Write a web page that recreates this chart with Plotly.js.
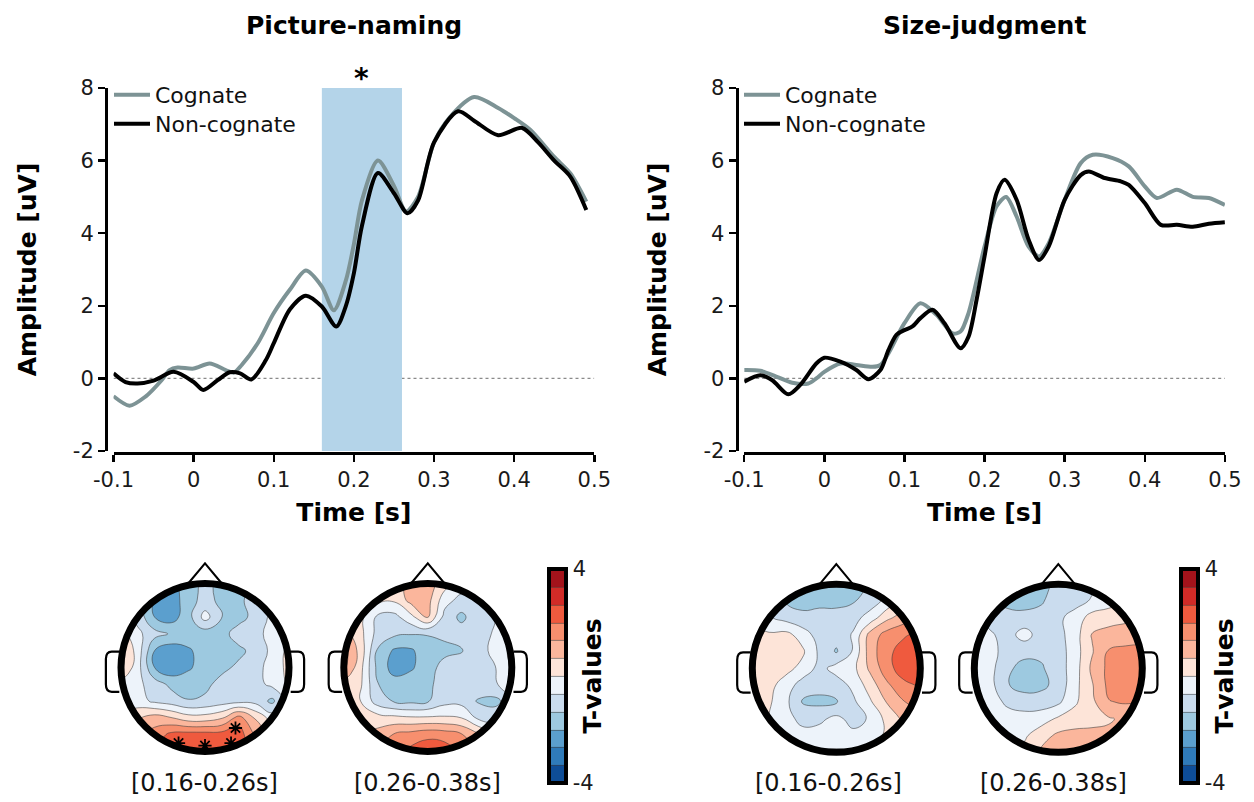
<!DOCTYPE html>
<html><head><meta charset="utf-8">
<script src="https://cdn.plot.ly/plotly-3.0.1.min.js"></script>
<style>html,body{margin:0;padding:0;background:#fff}#chart{width:1254px;height:802px}</style>
</head><body><div id="chart"></div>
<script>
// ---------------- DATA ----------------
// Picture-naming ERP (uV)
const pnCogT = [-0.1,-0.08,-0.06,-0.04,-0.03,-0.02,0,0.02,0.04,0.05,0.06,0.08,0.1,0.12,0.14,0.16,0.175,0.19,0.2,0.21,0.23,0.25,0.265,0.28,0.3,0.32,0.35,0.38,0.4,0.42,0.45,0.47,0.49];
const pnCogV = [-0.49,-0.75,-0.5,-0.05,0.23,0.3,0.27,0.41,0.23,0.16,0.37,0.97,1.8,2.44,2.97,2.53,1.88,2.7,3.7,4.9,6.0,5.3,4.6,5.0,6.5,7.2,7.75,7.45,7.17,6.85,6.1,5.65,4.87];
const pnNonT = [-0.1,-0.085,-0.07,-0.05,-0.025,0,0.012,0.03,0.045,0.058,0.072,0.09,0.1,0.12,0.14,0.16,0.178,0.19,0.2,0.21,0.23,0.25,0.267,0.28,0.3,0.33,0.35,0.38,0.41,0.43,0.45,0.47,0.49];
const pnNonV = [0.14,-0.1,-0.14,-0.06,0.18,-0.1,-0.32,-0.05,0.17,0.14,-0.03,0.5,0.97,1.9,2.28,1.98,1.43,2.0,2.9,4.2,5.66,5.1,4.55,4.9,6.5,7.36,7.1,6.7,6.9,6.5,6.0,5.56,4.64];
// Size-judgment ERP (uV)
const sjCogT = [-0.1,-0.08,-0.06,-0.04,-0.02,-0.01,0,0.02,0.04,0.06,0.07,0.08,0.1,0.12,0.14,0.16,0.17,0.18,0.2,0.215,0.227,0.24,0.255,0.268,0.28,0.3,0.32,0.335,0.36,0.38,0.4,0.415,0.44,0.46,0.48,0.5];
const sjCogV = [0.23,0.21,0.05,-0.12,-0.14,0,0.18,0.41,0.37,0.32,0.37,0.69,1.52,2.07,1.75,1.24,1.29,1.8,3.63,4.74,5.0,4.46,3.63,3.36,3.72,4.92,5.93,6.16,6.07,5.84,5.29,4.97,5.2,5.0,4.97,4.78];
const sjNonT = [-0.1,-0.08,-0.065,-0.045,-0.03,-0.01,0,0.02,0.04,0.055,0.07,0.08,0.09,0.1,0.11,0.12,0.135,0.15,0.17,0.18,0.19,0.2,0.215,0.225,0.24,0.255,0.268,0.28,0.3,0.32,0.33,0.35,0.37,0.38,0.4,0.42,0.44,0.46,0.48,0.5];
const sjNonV = [-0.09,0.09,-0.05,-0.44,-0.18,0.41,0.57,0.46,0.23,-0.02,0.23,0.78,1.2,1.33,1.43,1.66,1.89,1.52,0.83,1.15,2.16,3.36,5.1,5.47,4.92,3.82,3.26,3.63,4.92,5.6,5.7,5.52,5.43,5.33,4.83,4.23,4.23,4.18,4.26,4.3];

const seriesNames = ['Cognate','Non-cognate'];
const panelTitles = ['Picture-naming','Size-judgment'];
const xTickVals = [-0.1,0,0.1,0.2,0.3,0.4,0.5];
const xTickText = ['-0.1','0','0.1','0.2','0.3','0.4','0.5'];
const yTickVals = [-2,0,2,4,6,8];
const yTickText = ['-2','0','2','4','6','8'];
const sigWindow = [0.16, 0.26];

// Topographic T-value grids (rows from front/top v=1 to back/bottom v=-1; columns left u=-1 to right u=1)
const topoGrid = [-1,-0.8,-0.6,-0.4,-0.2,0,0.2,0.4,0.6,0.8,1];
const pnEarlyRows = [
 [-0.5,-1.0,-1.8,-2.2,-1.7,-1.1,-1.6,-1.6,-1.2,-0.5,-0.3],
 [-0.6,-1.0,-2.1,-2.4,-1.6,-1.1,-1.5,-1.5,-1.0,-0.5,-0.2],
 [-0.3,-0.9,-2.0,-2.3,-1.6,-0.4,-1.3,-1.6,-1.1,-0.5,-0.2],
 [0.3,-0.5,-1.1,-1.4,-1.6,-1.7,-1.6,-1.0,-0.9,-0.4,-0.1],
 [0.9,-0.3,-2.0,-2.4,-2.1,-1.7,-1.6,-1.5,-1.1,-0.5,0.2],
 [0.8,-0.4,-2.0,-2.5,-2.1,-1.7,-1.5,-1.2,-0.9,-0.4,0.2],
 [-0.2,-0.5,-1.0,-1.5,-1.6,-1.5,-1.1,-1.0,-0.9,-0.5,0.1],
 [-0.3,-0.4,-0.8,-1.0,-1.3,-1.2,-1.0,-0.9,-0.9,-1.5,-0.3],
 [0.2,0.6,1.0,0.7,0.3,0.3,0.6,1.6,0.6,-0.3,-0.3],
 [0.8,1.2,1.6,2.2,2.3,2.3,2.3,2.4,1.2,0.3,0.0],
 [1.2,1.6,2.0,2.4,2.5,2.5,2.5,2.4,1.5,0.5,0.2]
];
const pnLateRows = [
 [0.3,0.3,0.3,0.4,0.9,1.0,0.3,-0.3,-0.4,0.0,0.2],
 [0.3,0.3,0.2,0.1,0.9,0.9,-0.4,-0.9,-0.9,-0.5,0.2],
 [0.5,0.2,-0.8,-0.9,-0.2,0.7,-0.9,-1.5,-0.9,-0.7,0.2],
 [1.0,0.2,-0.9,-1.2,-1.3,-1.3,-1.2,-1.0,-0.9,-0.6,0.2],
 [1.6,0.4,-1.4,-2.1,-2.1,-1.6,-1.5,-1.4,-0.9,-0.5,0.2],
 [1.5,0.2,-1.5,-2.3,-2.1,-1.6,-1.1,-0.9,-0.9,-0.7,0.1],
 [0.5,0.1,-1.3,-1.7,-1.6,-1.5,-1.0,-0.9,-0.9,-0.8,0.0],
 [0.2,0.0,-1.0,-1.4,-1.5,-1.4,-0.9,-0.9,-1.4,-1.5,-1.0],
 [0.3,0.4,0.3,0.2,0.1,0.1,0.1,0.0,-0.8,-1.0,-0.6],
 [0.5,0.7,0.9,1.4,1.6,1.8,1.7,1.4,0.8,0.2,0.0],
 [0.8,1.0,1.3,1.8,2.2,2.5,2.4,1.9,1.2,0.5,0.2]
];
const sjEarlyRows = [
 [-1.0,-1.2,-1.4,-1.5,-1.6,-1.6,-1.5,-1.3,-0.9,-0.3,0.2],
 [-0.5,-0.8,-1.4,-1.5,-1.5,-1.5,-1.4,-1.0,-0.5,0.2,0.6],
 [-0.3,-0.6,-0.9,-1.2,-1.1,-1.1,-0.9,-0.4,0.5,1.0,1.4],
 [0.3,0.1,0.2,-0.3,-1.0,-1.1,-0.6,0.9,1.6,1.9,2.2],
 [0.3,0.3,0.2,0.1,-0.8,-1.4,-0.6,1.0,1.8,2.3,2.6],
 [0.3,0.3,0.2,-0.2,-0.9,-0.4,-0.2,0.8,1.7,2.4,2.6],
 [0.3,0.2,-0.3,-1.0,-1.1,-1.0,-0.5,0.3,1.2,1.8,2.1],
 [0.2,0.1,-0.5,-1.4,-1.5,-1.4,-0.8,-0.1,0.7,1.3,1.6],
 [0.1,0.0,-0.4,-0.9,-0.8,-0.5,-0.9,-0.6,0.2,0.8,1.1],
 [0.3,0.1,-0.2,-0.4,-0.4,-0.4,-0.5,-0.3,0.1,0.5,0.8],
 [0.4,0.3,0.2,0.1,0.1,0.1,0.1,0.1,0.3,0.5,0.7]
];
const sjLateRows = [
 [-1.3,-1.5,-1.6,-1.7,-1.6,-1.1,-0.9,-0.8,-0.5,-0.2,0.1],
 [-1.0,-1.3,-1.6,-1.6,-1.4,-1.0,-0.9,-0.6,-0.3,0.0,0.3],
 [-0.6,-0.9,-1.0,-1.1,-1.1,-0.8,-0.4,0.3,0.4,0.5,0.6],
 [-0.5,-0.6,-0.9,-0.4,-1.0,-0.9,-0.3,0.7,0.9,1.0,1.1],
 [-0.3,-0.5,-0.9,-1.1,-1.2,-1.0,-0.3,0.6,1.4,1.5,1.5],
 [-0.3,-0.5,-1.2,-1.6,-1.4,-1.0,-0.3,0.8,1.5,1.6,1.5],
 [-0.3,-0.5,-1.3,-1.6,-1.5,-1.1,-0.2,0.6,1.5,1.6,1.5],
 [-0.2,-0.4,-0.8,-1.0,-1.0,-0.8,-0.1,0.5,1.3,1.4,1.3],
 [-0.2,-0.3,-0.4,-0.4,-0.3,0.1,0.3,0.4,0.6,0.8,0.9],
 [-0.3,-0.3,-0.3,-0.1,0.4,0.8,0.9,0.9,0.8,0.6,0.5],
 [-0.3,-0.2,-0.1,0.2,0.8,1.0,1.0,1.0,0.9,0.6,0.5]
];
// significant electrodes (picture-naming, early window)
const pnEarlyStarU = [-0.315, 0.0, 0.31, 0.363];
const pnEarlyStarV = [-0.9, -0.93, -0.9, -0.72];
const topoLabels = ['[0.16-0.26s]','[0.26-0.38s]','[0.16-0.26s]','[0.26-0.38s]'];
const tValueColors = ['#0e4d97','#2f7bba','#5b9fce','#9dc9e0','#cadcee','#edf3fa','#fde4d8','#fbb69c','#f78f6e','#ef5a3e','#d12b27','#a3131b'];
const cbTickVals = [-4, 0, 4];
const cbTickText = ['-4', '', '4'];

// ---------------- LAYOUT HELPERS ----------------
const W = 1254, H = 802;
const FONT = 'DejaVu Sans';
const px = p => p / W;
const py = p => 1 - p / H;
const cogColor = '#7d9395', nonColor = '#000000';

const traces = [];
const shapes = [];
const annotations = [];
const layout = {
  width: W, height: H, margin: {l:0, r:0, t:0, b:0},
  paper_bgcolor: '#fff', plot_bgcolor: 'rgba(0,0,0,0)',
  font: {family: FONT, color: '#111'},
  showlegend: true,
  shapes, annotations
};

// ERP panels
const erpPanels = [
  {xa:'x', ya:'y', sx:'', xLeft:113.5, xRight:594.3, spine:106, legendX:109, legends:['legend','legend3'], title:354,
   cog:[pnCogT,pnCogV], non:[pnNonT,pnNonV], sig:true},
  {xa:'x2', ya:'y2', sx:'2', xLeft:744.2, xRight:1224.9, spine:736.6, legendX:739, legends:['legend2','legend4'], title:984.5,
   cog:[sjCogT,sjCogV], non:[sjNonT,sjNonV], sig:false}
];
erpPanels.forEach((p, i) => {
  traces.push({type:'scatter', mode:'lines', name:seriesNames[0], x:p.cog[0], y:p.cog[1], xaxis:p.xa, yaxis:p.ya,
    line:{color:cogColor, width:4, shape:'spline', smoothing:0.8}, cliponaxis:false, legend:p.legends[0], hoverinfo:'skip'});
  traces.push({type:'scatter', mode:'lines', name:seriesNames[1], x:p.non[0], y:p.non[1], xaxis:p.xa, yaxis:p.ya,
    line:{color:nonColor, width:4, shape:'spline', smoothing:0.8}, cliponaxis:false, legend:p.legends[1], hoverinfo:'skip'});
  layout['xaxis' + p.sx] = {
    domain:[px(p.xLeft), px(p.xRight)], range:[-0.1, 0.5], anchor:'free', position:py(453),
    showline:true, linewidth:3, linecolor:'#000', showgrid:false, zeroline:false,
    ticks:'outside', ticklen:7, tickwidth:2.5, tickcolor:'#000',
    tickvals:xTickVals, ticktext:xTickText, tickfont:{size:21, color:'#1a1a1a'},
    title:{text:'Time [s]', font:{size:25, weight:'bold', color:'#000'}, standoff:12}, fixedrange:true
  };
  layout['yaxis' + p.sx] = {
    domain:[py(451), py(88)], range:[-2, 8], anchor:'free', position:px(p.spine),
    showline:true, linewidth:3, linecolor:'#000', showgrid:false, zeroline:false,
    ticks:'outside', ticklen:7, tickwidth:2.5, tickcolor:'#000',
    tickvals:yTickVals, ticktext:yTickText, tickfont:{size:21, color:'#1a1a1a'},
    title:{text:'Amplitude [uV]', font:{size:25, weight:'bold', color:'#000'}, standoff:28}, fixedrange:true
  };
  [74, 103].forEach((top, k) => {
    layout[p.legends[k]] = {x:px(p.legendX), xanchor:'left', y:py(top), yanchor:'top', bgcolor:'rgba(0,0,0,0)',
      font:{size:22, color:'#111', family:FONT}, itemwidth:36};
  });
  shapes.push({type:'line', xref:p.xa, yref:p.ya, x0:-0.1, x1:0.5, y0:0, y1:0, layer:'below',
    line:{color:'#8a8a8a', width:1.3, dash:'dot'}});
  if (p.sig) {
    shapes.push({type:'rect', xref:p.xa, yref:p.ya, x0:sigWindow[0], x1:sigWindow[1], y0:-2, y1:8, layer:'below',
      fillcolor:'#b4d4e9', line:{width:0}});
    annotations.push({xref:p.xa, yref:'paper', x:(sigWindow[0]+sigWindow[1])/2, y:py(78), text:'*', showarrow:false,
      xanchor:'center', yanchor:'middle', font:{size:28, weight:'bold', color:'#000'}});
  }
  annotations.push({xref:'paper', yref:'paper', x:px(p.title), y:py(25), text:panelTitles[i], showarrow:false,
    xanchor:'center', yanchor:'middle', font:{size:25, weight:'bold', color:'#000'}});
});

// Topographic maps
const U = 84; // px per unit radius
const heads = [
  {rows:pnEarlyRows, cx:205, cy:667.5, label:204.5, n:5, cb:null},
  {rows:pnLateRows,  cx:427.8, cy:667.5, label:427, n:6, cb:549},
  {rows:sjEarlyRows, cx:836.3, cy:668.3, label:828, n:7, cb:null},
  {rows:sjLateRows,  cx:1058.3, cy:668.3, label:1053.7, n:8, cb:1181}
];
const topoScale = tValueColors.map((c, k) => [k / (tValueColors.length - 1), c]);
// circle polygon for mask (geometry, not data)
let circ = '';
for (let k = 0; k <= 120; k++) {
  const a = -2 * Math.PI * k / 120;
  circ += (k === 0 ? 'M' : 'L') + Math.cos(a).toFixed(4) + ',' + Math.sin(a).toFixed(4) + ' ';
}
const maskPath = 'M-1.06,-1.06 L1.06,-1.06 L1.06,1.06 L-1.06,1.06 Z ' + circ + 'Z';
heads.forEach((h, i) => {
  const xa = 'x' + h.n, ya = 'y' + h.n;
  const half = 1.3 * U;
  layout['xaxis' + h.n] = {domain:[px(h.cx - half), px(h.cx + half)], range:[-1.3, 1.3], visible:false, fixedrange:true, anchor:ya};
  layout['yaxis' + h.n] = {domain:[py(h.cy + half), py(h.cy - half)], range:[-1.3, 1.3], visible:false, fixedrange:true, anchor:xa};
  const z = h.rows.slice().reverse();
  const tr = {type:'contour', x:topoGrid, y:topoGrid, z:z, xaxis:xa, yaxis:ya, zmin:-4, zmax:4,
    colorscale:topoScale, autocontour:false,
    contours:{start:-3.33333, end:3.33334, size:0.666667, coloring:'fill', showlines:true},
    line:{color:'rgba(60,60,60,0.7)', width:0.8, smoothing:1.3},
    showscale:!!h.cb, hoverinfo:'skip', showlegend:false};
  if (h.cb) {
    tr.colorbar = {x:px(h.cb), xanchor:'left', xpad:0, y:py(676), yanchor:'middle', ypad:0,
      len:214 / H, lenmode:'fraction', thickness:17, thicknessmode:'pixels',
      outlinewidth:4, outlinecolor:'#000', tickvals:cbTickVals, ticktext:cbTickText,
      ticks:'inside', ticklen:4, tickwidth:2, tickcolor:'#000',
      tickfont:{size:21, color:'#1a1a1a'},
      title:{text:'T-values', side:'right', font:{size:25, weight:'bold', color:'#000'}}};
  }
  traces.push(tr);
  // mask outside the scalp
  shapes.push({type:'path', xref:xa, yref:ya, path:maskPath, fillcolor:'#ffffff', fillrule:'evenodd', line:{width:0}});
  // nose
  shapes.push({type:'path', xref:xa, yref:ya, path:'M-0.2,1.0 L0,1.24 L0.2,1.0', line:{color:'#000', width:2}});
  // ears
  shapes.push({type:'path', xref:xa, yref:ya, path:'M-1.02,0.19 L-1.11,0.19 C-1.16,0.19 -1.18,0.15 -1.18,0.1 L-1.18,-0.2 C-1.18,-0.26 -1.16,-0.29 -1.11,-0.29 L-1.02,-0.29', line:{color:'#000', width:2.2}});
  shapes.push({type:'path', xref:xa, yref:ya, path:'M1.02,0.19 L1.11,0.19 C1.16,0.19 1.18,0.15 1.18,0.1 L1.18,-0.2 C1.18,-0.26 1.16,-0.29 1.11,-0.29 L1.02,-0.29', line:{color:'#000', width:2.2}});
  // head outline
  shapes.push({type:'circle', xref:xa, yref:ya, x0:-1.0, x1:1.0, y0:-1.0, y1:1.0, line:{color:'#000', width:7}});
  annotations.push({xref:'paper', yref:'paper', x:px(h.label), y:py(783), text:topoLabels[i], showarrow:false,
    xanchor:'center', yanchor:'middle', font:{size:24, color:'#111'}});
});
traces.push({type:'scatter', mode:'markers', x:pnEarlyStarU, y:pnEarlyStarV, xaxis:'x5', yaxis:'y5',
  marker:{symbol:'asterisk-open', size:11, color:'#000', line:{width:1.8, color:'#000'}}, showlegend:false, hoverinfo:'skip'});

Plotly.newPlot('chart', traces, layout, {staticPlot:true, displayModeBar:false});
</script>
</body></html>
